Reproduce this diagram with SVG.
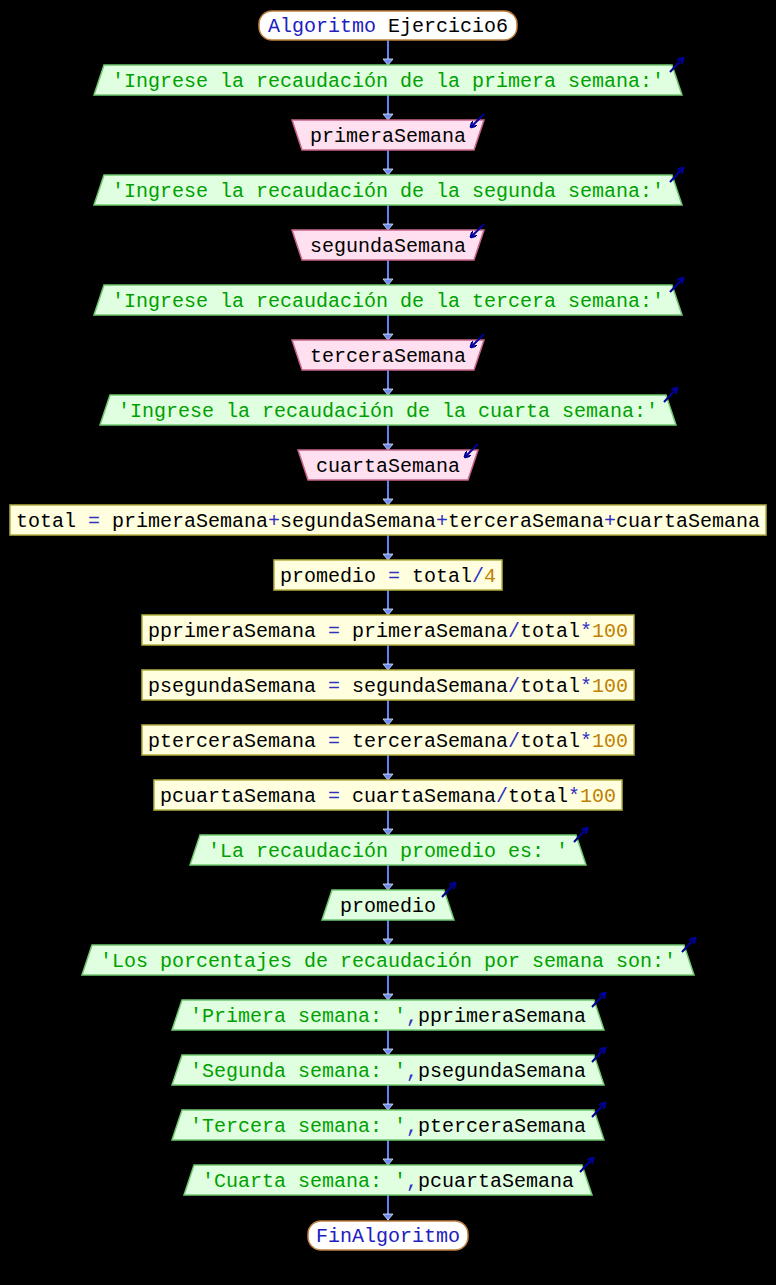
<svg xmlns="http://www.w3.org/2000/svg" width="776" height="1285" viewBox="0 0 776 1285">
<style>
text{font-family:"Liberation Mono","DejaVu Sans Mono",monospace;font-size:20px;text-anchor:middle;fill:#000}
.s{fill:#00a000}.o{fill:#3030c0}.n{fill:#c08000}.k{fill:#2020c0}
.term{fill:#fff;stroke:#c08040;stroke-width:1.5}
.out{fill:#e0ffe0;stroke:#70c870;stroke-width:1.5}
.inp{fill:#ffe0f0;stroke:#c86488;stroke-width:1.5}
.proc{fill:#ffffe0;stroke:#b4b040;stroke-width:1.5}
.ln{stroke:#5f82f0;stroke-width:2;fill:none}
.ah{fill:#6a8cf2;stroke:#dfe6ff;stroke-width:0.8}
.ic{stroke:#000098;stroke-width:2;fill:none}
</style>
<defs>
<marker id="v" viewBox="0 0 10 10" refX="8" refY="5" markerWidth="7" markerHeight="7" orient="auto" markerUnits="userSpaceOnUse">
<path d="M0,0 L9,5 L0,10" fill="none" stroke="#000098" stroke-width="3"/>
</marker>
</defs>
<rect width="776" height="1285" fill="#000"/>
<g id="connectors">
<path class="ln" d="M388,40V65M388,95V120M388,150V175M388,205V230M388,260V285M388,315V340M388,370V395M388,425V450M388,480V505M388,535V560M388,590V615M388,645V670M388,700V725M388,755V780M388,810V835M388,865V890M388,920V945M388,975V1000M388,1030V1055M388,1085V1110M388,1140V1165M388,1195V1220"/>
<g class="ah">
<polygon points="383,59 393,59 388,65"/><polygon points="383,114 393,114 388,120"/><polygon points="383,169 393,169 388,175"/><polygon points="383,224 393,224 388,230"/><polygon points="383,279 393,279 388,285"/><polygon points="383,334 393,334 388,340"/><polygon points="383,389 393,389 388,395"/><polygon points="383,444 393,444 388,450"/><polygon points="383,499 393,499 388,505"/><polygon points="383,554 393,554 388,560"/><polygon points="383,609 393,609 388,615"/><polygon points="383,664 393,664 388,670"/><polygon points="383,719 393,719 388,725"/><polygon points="383,774 393,774 388,780"/><polygon points="383,829 393,829 388,835"/><polygon points="383,884 393,884 388,890"/><polygon points="383,939 393,939 388,945"/><polygon points="383,994 393,994 388,1000"/><polygon points="383,1049 393,1049 388,1055"/><polygon points="383,1104 393,1104 388,1110"/><polygon points="383,1159 393,1159 388,1165"/><polygon points="383,1214 393,1214 388,1220"/>
</g>
</g>
<g id="start"><rect class="term" x="259" y="11" width="258" height="29" rx="13"/><text x="388" y="32"><tspan class="k">Algoritmo</tspan> Ejercicio6</text></g>
<g id="out1"><polygon class="out" points="104,65 672,65 682,95 94,95"/><text x="388" y="87" class="s">'Ingrese la recaudación de la primera semana:'</text><path class="ic" d="M670,72L683,58" marker-end="url(#v)"/></g>
<g id="in1"><polygon class="inp" points="292,120 484,120 474,150 302,150"/><text x="388" y="142">primeraSemana</text><path class="ic" d="M484,114L471,127" marker-end="url(#v)"/></g>
<g id="out2"><polygon class="out" points="104,175 672,175 682,205 94,205"/><text x="388" y="197" class="s">'Ingrese la recaudación de la segunda semana:'</text><path class="ic" d="M670,182L683,168" marker-end="url(#v)"/></g>
<g id="in2"><polygon class="inp" points="292,230 484,230 474,260 302,260"/><text x="388" y="252">segundaSemana</text><path class="ic" d="M484,224L471,237" marker-end="url(#v)"/></g>
<g id="out3"><polygon class="out" points="104,285 672,285 682,315 94,315"/><text x="388" y="307" class="s">'Ingrese la recaudación de la tercera semana:'</text><path class="ic" d="M670,292L683,278" marker-end="url(#v)"/></g>
<g id="in3"><polygon class="inp" points="292,340 484,340 474,370 302,370"/><text x="388" y="362">terceraSemana</text><path class="ic" d="M484,334L471,347" marker-end="url(#v)"/></g>
<g id="out4"><polygon class="out" points="110,395 666,395 676,425 100,425"/><text x="388" y="417" class="s">'Ingrese la recaudación de la cuarta semana:'</text><path class="ic" d="M664,402L677,388" marker-end="url(#v)"/></g>
<g id="in4"><polygon class="inp" points="298,450 478,450 468,480 308,480"/><text x="388" y="472">cuartaSemana</text><path class="ic" d="M478,444L465,457" marker-end="url(#v)"/></g>
<g id="total"><rect class="proc" x="10" y="505" width="756" height="30"/><text x="388" y="527">total <tspan class="o">=</tspan> primeraSemana<tspan class="o">+</tspan>segundaSemana<tspan class="o">+</tspan>terceraSemana<tspan class="o">+</tspan>cuartaSemana</text></g>
<g id="promedio"><rect class="proc" x="274" y="560" width="228" height="30"/><text x="388" y="582">promedio <tspan class="o">=</tspan> total<tspan class="o">/</tspan><tspan class="n">4</tspan></text></g>
<g id="pp"><rect class="proc" x="142" y="615" width="492" height="30"/><text x="388" y="637">pprimeraSemana <tspan class="o">=</tspan> primeraSemana<tspan class="o">/</tspan>total<tspan class="o">*</tspan><tspan class="n">100</tspan></text></g>
<g id="ps"><rect class="proc" x="142" y="670" width="492" height="30"/><text x="388" y="692">psegundaSemana <tspan class="o">=</tspan> segundaSemana<tspan class="o">/</tspan>total<tspan class="o">*</tspan><tspan class="n">100</tspan></text></g>
<g id="pt"><rect class="proc" x="142" y="725" width="492" height="30"/><text x="388" y="747">pterceraSemana <tspan class="o">=</tspan> terceraSemana<tspan class="o">/</tspan>total<tspan class="o">*</tspan><tspan class="n">100</tspan></text></g>
<g id="pc"><rect class="proc" x="154" y="780" width="468" height="30"/><text x="388" y="802">pcuartaSemana <tspan class="o">=</tspan> cuartaSemana<tspan class="o">/</tspan>total<tspan class="o">*</tspan><tspan class="n">100</tspan></text></g>
<g id="outLa"><polygon class="out" points="200,835 576,835 586,865 190,865"/><text x="388" y="857" class="s">'La recaudación promedio es: '</text><path class="ic" d="M574,842L587,828" marker-end="url(#v)"/></g>
<g id="outProm"><polygon class="out" points="332,890 444,890 454,920 322,920"/><text x="388" y="912">promedio</text><path class="ic" d="M442,897L455,883" marker-end="url(#v)"/></g>
<g id="outLos"><polygon class="out" points="92,945 684,945 694,975 82,975"/><text x="388" y="967" class="s">'Los porcentajes de recaudación por semana son:'</text><path class="ic" d="M682,952L695,938" marker-end="url(#v)"/></g>
<g id="outP1"><polygon class="out" points="182,1000 594,1000 604,1030 172,1030"/><text x="388" y="1022"><tspan class="s">'Primera semana: '</tspan><tspan class="o">,</tspan>pprimeraSemana</text><path class="ic" d="M592,1007L605,993" marker-end="url(#v)"/></g>
<g id="outP2"><polygon class="out" points="182,1055 594,1055 604,1085 172,1085"/><text x="388" y="1077"><tspan class="s">'Segunda semana: '</tspan><tspan class="o">,</tspan>psegundaSemana</text><path class="ic" d="M592,1062L605,1048" marker-end="url(#v)"/></g>
<g id="outP3"><polygon class="out" points="182,1110 594,1110 604,1140 172,1140"/><text x="388" y="1132"><tspan class="s">'Tercera semana: '</tspan><tspan class="o">,</tspan>pterceraSemana</text><path class="ic" d="M592,1117L605,1103" marker-end="url(#v)"/></g>
<g id="outP4"><polygon class="out" points="194,1165 582,1165 592,1195 184,1195"/><text x="388" y="1187"><tspan class="s">'Cuarta semana: '</tspan><tspan class="o">,</tspan>pcuartaSemana</text><path class="ic" d="M580,1172L593,1158" marker-end="url(#v)"/></g>
<g id="end"><rect class="term" x="308" y="1221" width="160" height="29" rx="13"/><text x="388" y="1242" class="k">FinAlgoritmo</text></g>
</svg>
